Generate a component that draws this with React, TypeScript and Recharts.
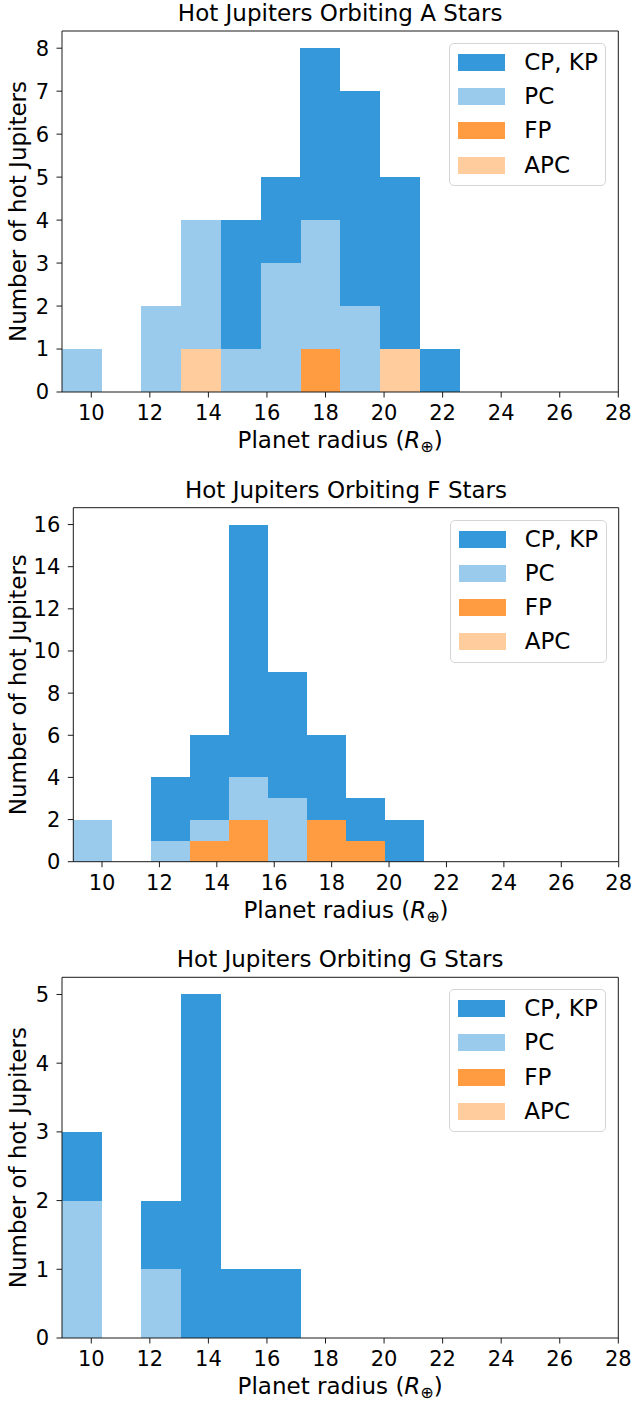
import React from "react";
import { BarChart, Bar, XAxis, YAxis, Legend } from "recharts";

const FONT = "DejaVu Sans, Verdana, sans-serif";
const W = 634;

// left edge of each of the 14 radius bins (Earth radii)
const binStarts = [9.0, 10.36, 11.71, 13.07, 14.43, 15.79, 17.14, 18.5, 19.86, 21.21, 22.57, 23.93, 25.29, 26.64];
const xTicks = [10, 12, 14, 16, 18, 20, 22, 24, 26, 28];

// A stars
const aCP = [0, 0, 0, 0, 3, 2, 4, 5, 4, 1, 0, 0, 0, 0];
const aPC = [1, 0, 2, 3, 1, 3, 3, 2, 0, 0, 0, 0, 0, 0];
const aFP = [0, 0, 0, 0, 0, 0, 1, 0, 0, 0, 0, 0, 0, 0];
const aAPC = [0, 0, 0, 1, 0, 0, 0, 0, 1, 0, 0, 0, 0, 0];
const aTicks = [0, 1, 2, 3, 4, 5, 6, 7, 8];

// F stars
const fCP = [0, 0, 3, 4, 12, 6, 4, 2, 2, 0, 0, 0, 0, 0];
const fPC = [2, 0, 1, 1, 2, 3, 0, 0, 0, 0, 0, 0, 0, 0];
const fFP = [0, 0, 0, 1, 2, 0, 2, 1, 0, 0, 0, 0, 0, 0];
const fAPC = [0, 0, 0, 0, 0, 0, 0, 0, 0, 0, 0, 0, 0, 0];
const fTicks = [0, 2, 4, 6, 8, 10, 12, 14, 16];

// G stars
const gCP = [1, 0, 1, 5, 1, 1, 0, 0, 0, 0, 0, 0, 0, 0];
const gPC = [2, 0, 1, 0, 0, 0, 0, 0, 0, 0, 0, 0, 0, 0];
const gFP = [0, 0, 0, 0, 0, 0, 0, 0, 0, 0, 0, 0, 0, 0];
const gAPC = [0, 0, 0, 0, 0, 0, 0, 0, 0, 0, 0, 0, 0, 0];
const gTicks = [0, 1, 2, 3, 4, 5];

// stacked bottom -> top
const series = [
  { key: "apc", name: "APC", color: "#ffcc9e" },
  { key: "fp", name: "FP", color: "#ff9b40" },
  { key: "pc", name: "PC", color: "#9acbec" },
  { key: "cp", name: "CP, KP", color: "#3498db" },
];
const legendOrder = ["cp", "pc", "fp", "apc"];

const AXIS = "#1a1a1a";

const renderLegend = (props: any) => {
  const items = [...(props.payload || [])].sort(
    (a: any, b: any) => legendOrder.indexOf(a.dataKey) - legendOrder.indexOf(b.dataKey)
  );
  return (
    <div
      style={{
        position: "relative",
        width: 157,
        height: 143,
        boxSizing: "border-box",
        border: "1px solid #d5d5d5",
        borderRadius: 5,
        background: "rgba(255,255,255,0.8)",
        fontFamily: FONT,
      }}
    >
      {items.map((it: any, i: number) => (
        <div key={it.dataKey} style={{ position: "absolute", left: 0, top: 10 + i * 34.2, height: 17, width: "100%" }}>
          <div style={{ position: "absolute", left: 8, top: 0, width: 47, height: 17, background: it.color }} />
          <span
            style={{ position: "absolute", left: 74, top: 0, lineHeight: "17px", fontSize: 23, color: "#000", whiteSpace: "nowrap" }}
          >
            {it.value}
          </span>
        </div>
      ))}
    </div>
  );
};

const XLabel = (props: any) => {
  const vb = props.viewBox;
  return (
    <text x={vb.x + vb.width / 2} y={vb.y + 56} textAnchor="middle" fontFamily={FONT} fontSize={23} fill="#000">
      Planet radius (<tspan fontStyle="italic">R</tspan>
      <tspan fontSize={16} dy={4}>⊕</tspan>
      <tspan dy={-4}>)</tspan>
    </text>
  );
};

const YLabel = (props: any) => {
  const vb = props.viewBox;
  const cy = vb.y + vb.height / 2;
  return (
    <text transform={`translate(26, ${cy}) rotate(-90)`} x={0} y={0} textAnchor="middle" fontFamily={FONT} fontSize={23} fill="#000">
      Number of hot Jupiters
    </text>
  );
};

type PanelProps = {
  title: string;
  cp: number[];
  pc: number[];
  fp: number[];
  apc: number[];
  yTicks: number[];
  yMax: number;
  top: number;
  height: number;
  plotTop: number;
  plotBottom: number;
  plotLeft: number;
  plotRight: number;
};

function Panel(p: PanelProps) {
  const rows = binStarts.map((s, i) => ({
    bin: i,
    start: s,
    cp: p.cp[i],
    pc: p.pc[i],
    fp: p.fp[i],
    apc: p.apc[i],
  }));
  const yAxisW = 50;
  const xAxisH = 30;
  // 1px frame axes on the top and right
  const margin = {
    top: p.plotTop - 1,
    bottom: p.height - p.plotBottom - xAxisH,
    left: p.plotLeft - yAxisW,
    right: W - p.plotRight - 1,
  };
  const tickStyle = { fontSize: 21, fill: "#000", fontFamily: FONT };

  return (
    <div style={{ position: "absolute", left: 0, top: p.top }}>
      <div
        style={{
          position: "absolute",
          left: p.plotLeft,
          width: p.plotRight - p.plotLeft,
          top: p.plotTop - 9.7 - 19.5,
          lineHeight: "23px",
          textAlign: "center",
          fontFamily: FONT,
          fontSize: 23,
          color: "#000",
          whiteSpace: "nowrap",
        }}
      >
        {p.title}
      </div>
      <BarChart width={W} height={p.height} data={rows} margin={margin} barCategoryGap={0} barGap={0}>
        <XAxis xAxisId="bin" dataKey="bin" type="category" hide height={0} />
        <XAxis
          xAxisId="num"
          dataKey="start"
          type="number"
          domain={[9, 28]}
          allowDataOverflow
          ticks={xTicks}
          interval={0}
          height={xAxisH}
          tick={tickStyle}
          tickSize={5.5}
          tickMargin={7.6}
          axisLine={{ stroke: AXIS, strokeWidth: 1 }}
          tickLine={{ stroke: AXIS, strokeWidth: 1 }}
          label={<XLabel />}
        />
        <XAxis
          xAxisId="top"
          orientation="top"
          type="number"
          domain={[9, 28]}
          allowDataOverflow
          height={1}
          tick={false}
          tickLine={false}
          axisLine={{ stroke: AXIS, strokeWidth: 1 }}
        />
        <YAxis
          type="number"
          domain={[0, p.yMax]}
          allowDataOverflow
          ticks={p.yTicks}
          interval={0}
          width={yAxisW}
          tick={tickStyle}
          tickSize={5.5}
          tickMargin={7.5}
          axisLine={{ stroke: AXIS, strokeWidth: 1 }}
          tickLine={{ stroke: AXIS, strokeWidth: 1 }}
          label={<YLabel />}
        />
        <YAxis
          yAxisId="r"
          orientation="right"
          type="number"
          domain={[0, p.yMax]}
          width={1}
          tick={false}
          tickLine={false}
          axisLine={{ stroke: AXIS, strokeWidth: 1 }}
        />
        {series.map((s) => (
          <Bar
            key={s.key}
            xAxisId="bin"
            dataKey={s.key}
            name={s.name}
            stackId="h"
            fill={s.color}
            shapeRendering="crispEdges"
            isAnimationActive={false}
          />
        ))}
        <Legend
          layout="horizontal"
          verticalAlign="middle"
          align="center"
          wrapperStyle={{ left: p.plotRight - 12 - 157, top: p.plotTop + 12, width: 157, height: 143 }}
          content={renderLegend}
        />
      </BarChart>
    </div>
  );
}

export default function App() {
  return (
    <div style={{ position: "absolute", left: 0, top: 0, width: W, height: 1403, background: "#fff" }}>
      <Panel
        title="Hot Jupiters Orbiting A Stars"
        cp={aCP}
        pc={aPC}
        fp={aFP}
        apc={aAPC}
        yTicks={aTicks}
        yMax={8.4}
        top={0}
        height={460}
        plotTop={31}
        plotBottom={392}
        plotLeft={62}
        plotRight={618.3}
      />
      <Panel
        title="Hot Jupiters Orbiting F Stars"
        cp={fCP}
        pc={fPC}
        fp={fFP}
        apc={fAPC}
        yTicks={fTicks}
        yMax={16.8}
        top={460}
        height={470}
        plotTop={47.7}
        plotBottom={401.7}
        plotLeft={73.3}
        plotRight={618.7}
      />
      <Panel
        title="Hot Jupiters Orbiting G Stars"
        cp={gCP}
        pc={gPC}
        fp={gFP}
        apc={gAPC}
        yTicks={gTicks}
        yMax={5.25}
        top={930}
        height={473}
        plotTop={47.3}
        plotBottom={408}
        plotLeft={62}
        plotRight={618.3}
      />
    </div>
  );
}
